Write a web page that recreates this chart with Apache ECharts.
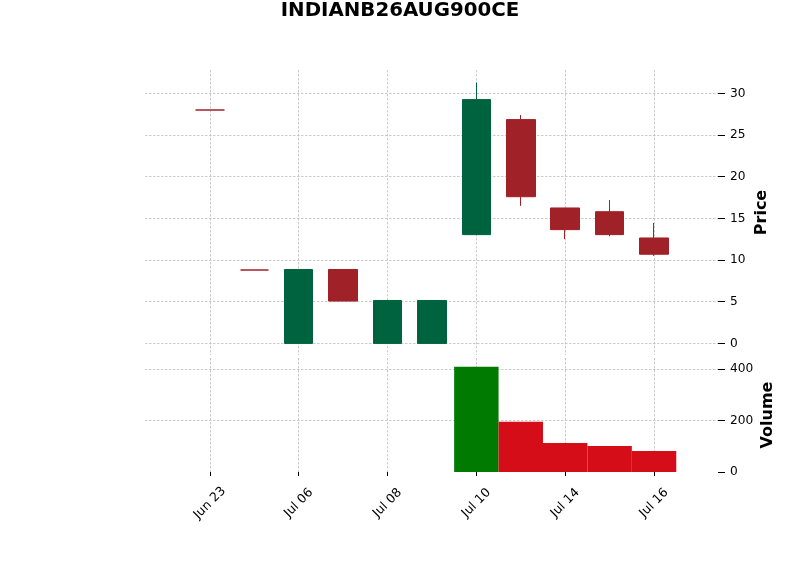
<!DOCTYPE html>
<html>
<head>
<meta charset="utf-8">
<script src="https://cdn.jsdelivr.net/npm/echarts@6/dist/echarts.min.js"></script>
<style>html,body{margin:0;padding:0;background:#fff}#main{width:800px;height:575px}</style>
</head>
<body>
<div id="main"></div>
<script>
var dates=['Jun 23','Jul 03','Jul 06','Jul 07','Jul 08','Jul 09','Jul 10','Jul 11','Jul 14','Jul 15','Jul 16'];
var opens=[28.0,8.8,0,8.87,0,0,13.05,26.85,16.25,15.8,12.65];
var closes=[28.0,8.8,8.87,5.08,5.15,5.15,29.25,17.6,13.65,13.05,10.7];
var lows=[28.0,8.8,0,5.08,0,0,13.05,16.5,12.5,12.85,10.5];
var highs=[28.0,8.8,8.87,8.87,5.15,5.15,31.3,27.4,16.25,17.2,14.45];
var volumes=[0,0,0,0,0,0,409,195,113,101,82];
var tickIdx=[0,2,4,6,8,10];
var priceTicks=[0,5,10,15,20,25,30];
var volTicks=[0,200,400];

var upColor='#006340', downColor='#a02128', volUp='#007a00', volDown='#d50d18';
var font='DejaVu Sans';
var chart=echarts.init(document.getElementById('main'));

var candleData=[], volumeData=[];
for(var i=0;i<dates.length;i++){
    var item={value:[i,opens[i],closes[i],lows[i],highs[i]]};
    // doji candles are drawn in the down colour
    if(opens[i]===closes[i]){
        item.itemStyle={color:downColor,color0:downColor,borderColor:downColor,borderColor0:downColor,borderWidth:1.5};
    }
    candleData.push(item);
    volumeData.push({value:[i,volumes[i]],itemStyle:{color:closes[i]>opens[i]?volUp:volDown}});
}

var gridLine={show:true,lineStyle:{color:'#bdbdbd',width:0.8,type:[2.5,1.5]}};
var tickLabel={fontFamily:font,fontSize:12.2,color:'#000'};

option={
    animation:false,
    title:{
        text:'INDIANB26AUG900CE',
        left:'center',
        top:-4,
        textStyle:{fontFamily:font,fontSize:19.8,fontWeight:'bold',color:'#000'}
    },
    grid:[
        {left:145,right:82,top:70,height:285},
        {left:145,right:82,top:358,height:114}
    ],
    xAxis:[
        {
            type:'value',gridIndex:0,min:-1.46,max:11.44,
            axisLine:{show:false,onZero:false},
            axisTick:{show:false,customValues:tickIdx},
            axisLabel:{show:false,customValues:tickIdx},
            splitLine:gridLine
        },
        {
            type:'value',gridIndex:1,min:-1.46,max:11.44,
            axisLine:{show:false,onZero:false},
            axisTick:{show:true,customValues:tickIdx,length:4,lineStyle:{color:'#000'}},
            axisLabel:{customValues:tickIdx,rotate:45,margin:31,align:'center',verticalAlign:'middle',
                fontFamily:font,fontSize:12.5,color:'#000',
                formatter:function(v){return dates[v];}},
            splitLine:gridLine
        }
    ],
    yAxis:[
        {
            type:'value',gridIndex:0,position:'right',min:-1.39,max:32.8,
            axisLine:{show:false,onZero:false},
            axisTick:{show:true,customValues:priceTicks,length:7,lineStyle:{color:'#000'}},
            axisLabel:Object.assign({customValues:priceTicks,margin:12},tickLabel),
            splitLine:gridLine,
            name:'Price',nameLocation:'middle',nameRotate:90,nameGap:36,nameMoveOverlap:false,
            nameTextStyle:{fontFamily:font,fontWeight:'bold',fontSize:16,color:'#000'}
        },
        {
            type:'value',gridIndex:1,position:'right',min:0,max:443,
            axisLine:{show:false,onZero:false},
            axisTick:{show:true,customValues:volTicks,length:7,lineStyle:{color:'#000'}},
            axisLabel:Object.assign({customValues:volTicks,margin:12},tickLabel),
            splitLine:Object.assign({showMinLine:false},gridLine),
            name:'Volume',nameLocation:'middle',nameRotate:90,nameGap:42,nameMoveOverlap:false,
            nameTextStyle:{fontFamily:font,fontWeight:'bold',fontSize:16,color:'#000'}
        }
    ],
    series:[
        {
            name:'price',type:'candlestick',xAxisIndex:0,yAxisIndex:0,
            barWidth:29,
            itemStyle:{color:upColor,color0:downColor,borderColor:upColor,borderColor0:downColor,borderWidth:1},
            data:candleData
        },
        {
            name:'volume',type:'bar',xAxisIndex:1,yAxisIndex:1,
            barWidth:'100%',
            data:volumeData
        }
    ]
};
chart.setOption(option);
</script>
</body>
</html>
